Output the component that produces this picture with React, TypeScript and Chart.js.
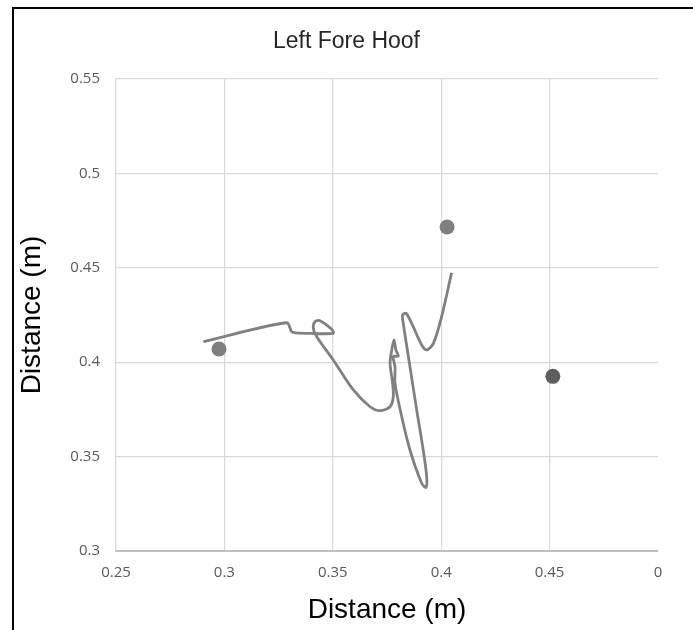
import React, { useEffect, useRef } from "react";
import { Chart, registerables } from "chart.js";

Chart.register(...registerables);

// ---- data ----
const chartTitle = "Left Fore Hoof";
const xAxisTitle = "Distance (m)";
const yAxisTitle = "Distance (m)";

const xTickLabels = ["0.25", "0.3", "0.35", "0.4", "0.45", "0"];
const yTickLabels = ["0.3", "0.35", "0.4", "0.45", "0.5", "0.55"];

// hoof trajectory
const pathX = [
  0.2903, 0.3287, 0.331, 0.333, 0.3395, 0.3502, 0.3495, 0.3441, 0.3418, 0.341,
  0.3426, 0.3502, 0.3595, 0.3672, 0.3718, 0.3764, 0.3779, 0.3776, 0.3764, 0.3772,
  0.3782, 0.3791, 0.3802, 0.3779, 0.3787, 0.3787, 0.3818, 0.3856, 0.391, 0.393,
  0.3933, 0.3917, 0.3887, 0.3856, 0.3825, 0.3822, 0.3838, 0.3871, 0.391, 0.3933,
  0.3964, 0.4002, 0.4048,
];
const pathY = [
  0.4109, 0.4209, 0.4162, 0.4155, 0.4153, 0.4153, 0.4174, 0.422, 0.4215, 0.418,
  0.4135, 0.4012, 0.3853, 0.3764, 0.3743, 0.3764, 0.3817, 0.3888, 0.3994, 0.4065,
  0.4118, 0.4065, 0.4033, 0.4029, 0.3976, 0.3888, 0.3711, 0.3535, 0.3359, 0.3337,
  0.3394, 0.3535, 0.3747, 0.3976, 0.4206, 0.425, 0.4259, 0.4188, 0.4091, 0.4065,
  0.41, 0.4241, 0.4474,
];

// marker points
const markerX = [0.2975, 0.4027, 0.4515];
const markerY = [0.407, 0.4716, 0.3925];

// ---- styles ----
const lineColor = "#808080";
const markerColors = ["#7f7f7f", "#7f7f7f", "#5e5e5e"];
const gridColor = "#d9d9d9";
const tickColor = "#595959";

export default function App() {
  const canvasRef = useRef<HTMLCanvasElement | null>(null);

  useEffect(() => {
    const canvas = canvasRef.current;
    if (!canvas) return;
    const chart = new Chart(canvas, {
      type: "scatter",
      data: {
        datasets: [
          {
            label: "path",
            data: pathX.map((x, i) => ({ x, y: pathY[i] })),
            showLine: true,
            borderColor: lineColor,
            borderWidth: 2.8,
            pointRadius: 0,
            tension: 0.3,
            order: 2,
          },
          {
            label: "markers",
            data: markerX.map((x, i) => ({ x, y: markerY[i] })),
            showLine: false,
            pointRadius: 7.5,
            pointBackgroundColor: markerColors,
            pointBorderColor: markerColors,
            pointBorderWidth: 0,
            order: 1,
          },
        ],
      },
      options: {
        responsive: false,
        animation: false,
        devicePixelRatio: 1,
        layout: { padding: { top: 0, left: 0, right: 0, bottom: 0 } },
        plugins: {
          legend: { display: false },
          tooltip: { enabled: false },
          title: {
            display: true,
            text: chartTitle,
            color: "#262626",
            font: { family: "'Liberation Sans', Arial, sans-serif", size: 23, weight: "normal", lineHeight: 1.2 },
            padding: { top: 28, bottom: 23.4 },
          },
        },
        scales: {
          x: {
            type: "linear",
            min: 0.25,
            max: 0.5,
            afterFit: (scale: any) => {
              scale.height = 79;
              scale.paddingRight = 35;
              scale.paddingLeft = 0;
            },
            ticks: {
              stepSize: 0.05,
              padding: 13,
              color: tickColor,
              font: { family: "'Open Sans', sans-serif", size: 15 },
              callback: (_v: any, i: number) => xTickLabels[i],
            },
            grid: {
              drawTicks: false,
              color: (ctx: any) => (ctx.index === 5 ? "rgba(0,0,0,0)" : gridColor),
              lineWidth: 1.2,
            },
            border: { display: true, color: "#bfbfbf", width: 2 },
            title: {
              display: true,
              text: xAxisTitle,
              color: "#000",
              font: { family: "'Liberation Sans', Arial, sans-serif", size: 28, lineHeight: 1.2 },
              padding: { top: 0, bottom: 3 },
            },
          },
          y: {
            type: "linear",
            min: 0.3,
            max: 0.55,
            afterFit: (scale: any) => {
              scale.width = 116;
            },
            ticks: {
              stepSize: 0.05,
              padding: 16,
              color: tickColor,
              font: { family: "'Open Sans', sans-serif", size: 15 },
              callback: (_v: any, i: number) => yTickLabels[i],
            },
            grid: {
              drawTicks: false,
              color: gridColor,
              lineWidth: 1.2,
            },
            border: { display: true, color: gridColor, width: 1.2 },
            title: {
              display: true,
              text: yAxisTitle,
              color: "#000",
              font: { family: "'Liberation Sans', Arial, sans-serif", size: 28, lineHeight: 1.2 },
              padding: { top: 15, bottom: 0 },
            },
          },
        },
      },
    });
    return () => chart.destroy();
  }, []);

  return (
    <div
      style={{
        position: "absolute",
        left: 0,
        top: 0,
        width: 693,
        height: 630,
        background: "#fff",
        overflow: "hidden",
      }}
    >
      <canvas
        ref={canvasRef}
        width={693}
        height={630}
        style={{ position: "absolute", left: 0, top: 0, width: 693, height: 630 }}
      />
      <div
        style={{
          position: "absolute",
          left: 12,
          top: 7,
          width: 681,
          height: 623,
          boxSizing: "border-box",
          borderTop: "2px solid #000",
          borderLeft: "2px solid #000",
          pointerEvents: "none",
        }}
      />
    </div>
  );
}
